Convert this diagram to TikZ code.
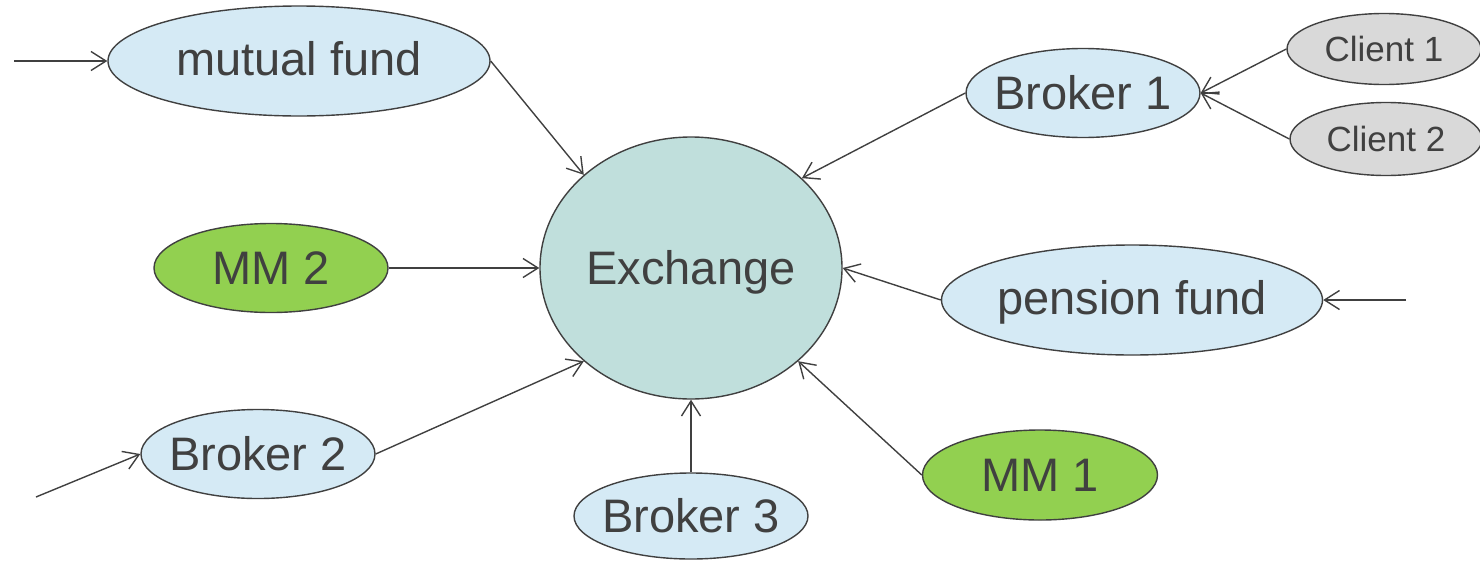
\documentclass[tikz,border=0pt]{standalone}
\usepackage{fontspec}
\setmainfont{Liberation Sans}
\usetikzlibrary{shapes.geometric,arrows.meta}
\definecolor{lblue}{HTML}{D5EAF5}
\definecolor{exfill}{HTML}{C0DFDC}
\definecolor{mmgreen}{HTML}{92D050}
\definecolor{cgray}{HTML}{D9D9D9}
\definecolor{ink}{HTML}{404040}
\newcommand\mylbl[2][0pt]{\makebox[0pt]{\raisebox{#1}{\rule{0pt}{0.72em}\smash{#2}}}}
\tikzset{
  bub/.style={ellipse, draw=ink, line width=1.4pt, inner sep=0pt, text=ink,
    font=\fontsize{47}{50}\selectfont},
  small/.style={font=\fontsize{35}{38}\selectfont},
  conn/.style={draw=ink, line width=1.4pt,
    -{Straight Barb[length=15pt,width=19pt,line width=1.4pt]}}
}
\begin{document}
\begin{tikzpicture}[x=1pt,y=-1pt]
\useasboundingbox (0,0) rectangle (1480,560);
\node[bub, fill=exfill, minimum width=302pt, minimum height=262pt] (ex) at (691,268) {\mylbl{Exchange}};
\node[bub, fill=lblue, minimum width=382pt, minimum height=110pt] (mf) at (299,61) {\mylbl[5pt]{mutual fund}};
\node[bub, fill=lblue, minimum width=234pt, minimum height=89pt] (b1) at (1083,93) {\mylbl{Broker 1}};
\node[bub, small, fill=cgray, minimum width=194pt, minimum height=71pt] (c1) at (1384,49) {\mylbl{Client 1}};
\node[bub, small, fill=cgray, minimum width=192pt, minimum height=73pt] (c2) at (1386,139) {\mylbl{Client 2}};
\node[bub, fill=mmgreen, minimum width=234pt, minimum height=89pt] (mm2) at (271,268) {\mylbl{MM 2}};
\node[bub, fill=lblue, minimum width=381pt, minimum height=110pt] (pf) at (1132,300) {\mylbl[5pt]{pension fund}};
\node[bub, fill=lblue, minimum width=234pt, minimum height=89pt] (b2) at (258,454) {\mylbl{Broker 2}};
\node[bub, fill=lblue, minimum width=234pt, minimum height=86pt] (b3) at (691,516) {\mylbl{Broker 3}};
\node[bub, fill=mmgreen, minimum width=235pt, minimum height=90pt] (mm1) at (1040,475) {\mylbl{MM 1}};
\coordinate (inmf) at (14,61);
\coordinate (inb2) at (36,497);
\coordinate (inpf) at (1406,300);
\draw[conn] (inmf) -- (mf.west);
\draw[conn] (mf.east) -- (ex.139.4);
\draw[conn] (mm2.east) -- (ex.west);
\draw[conn] (inb2) -- (b2.west);
\draw[conn] (b2.east) -- (ex.221);
\draw[conn] (b3.north) -- (ex.south);
\draw[conn] (mm1.west) -- (ex.319.2);
\draw[conn] (pf.west) -- (ex.east);
\draw[conn] (inpf) -- (pf.east);
\draw[conn] (b1.west) -- (ex.39.9);
\draw[conn] (c1.west) -- (b1.east);
\draw[conn] (c2.west) -- (b1.east);
\end{tikzpicture}
\end{document}
